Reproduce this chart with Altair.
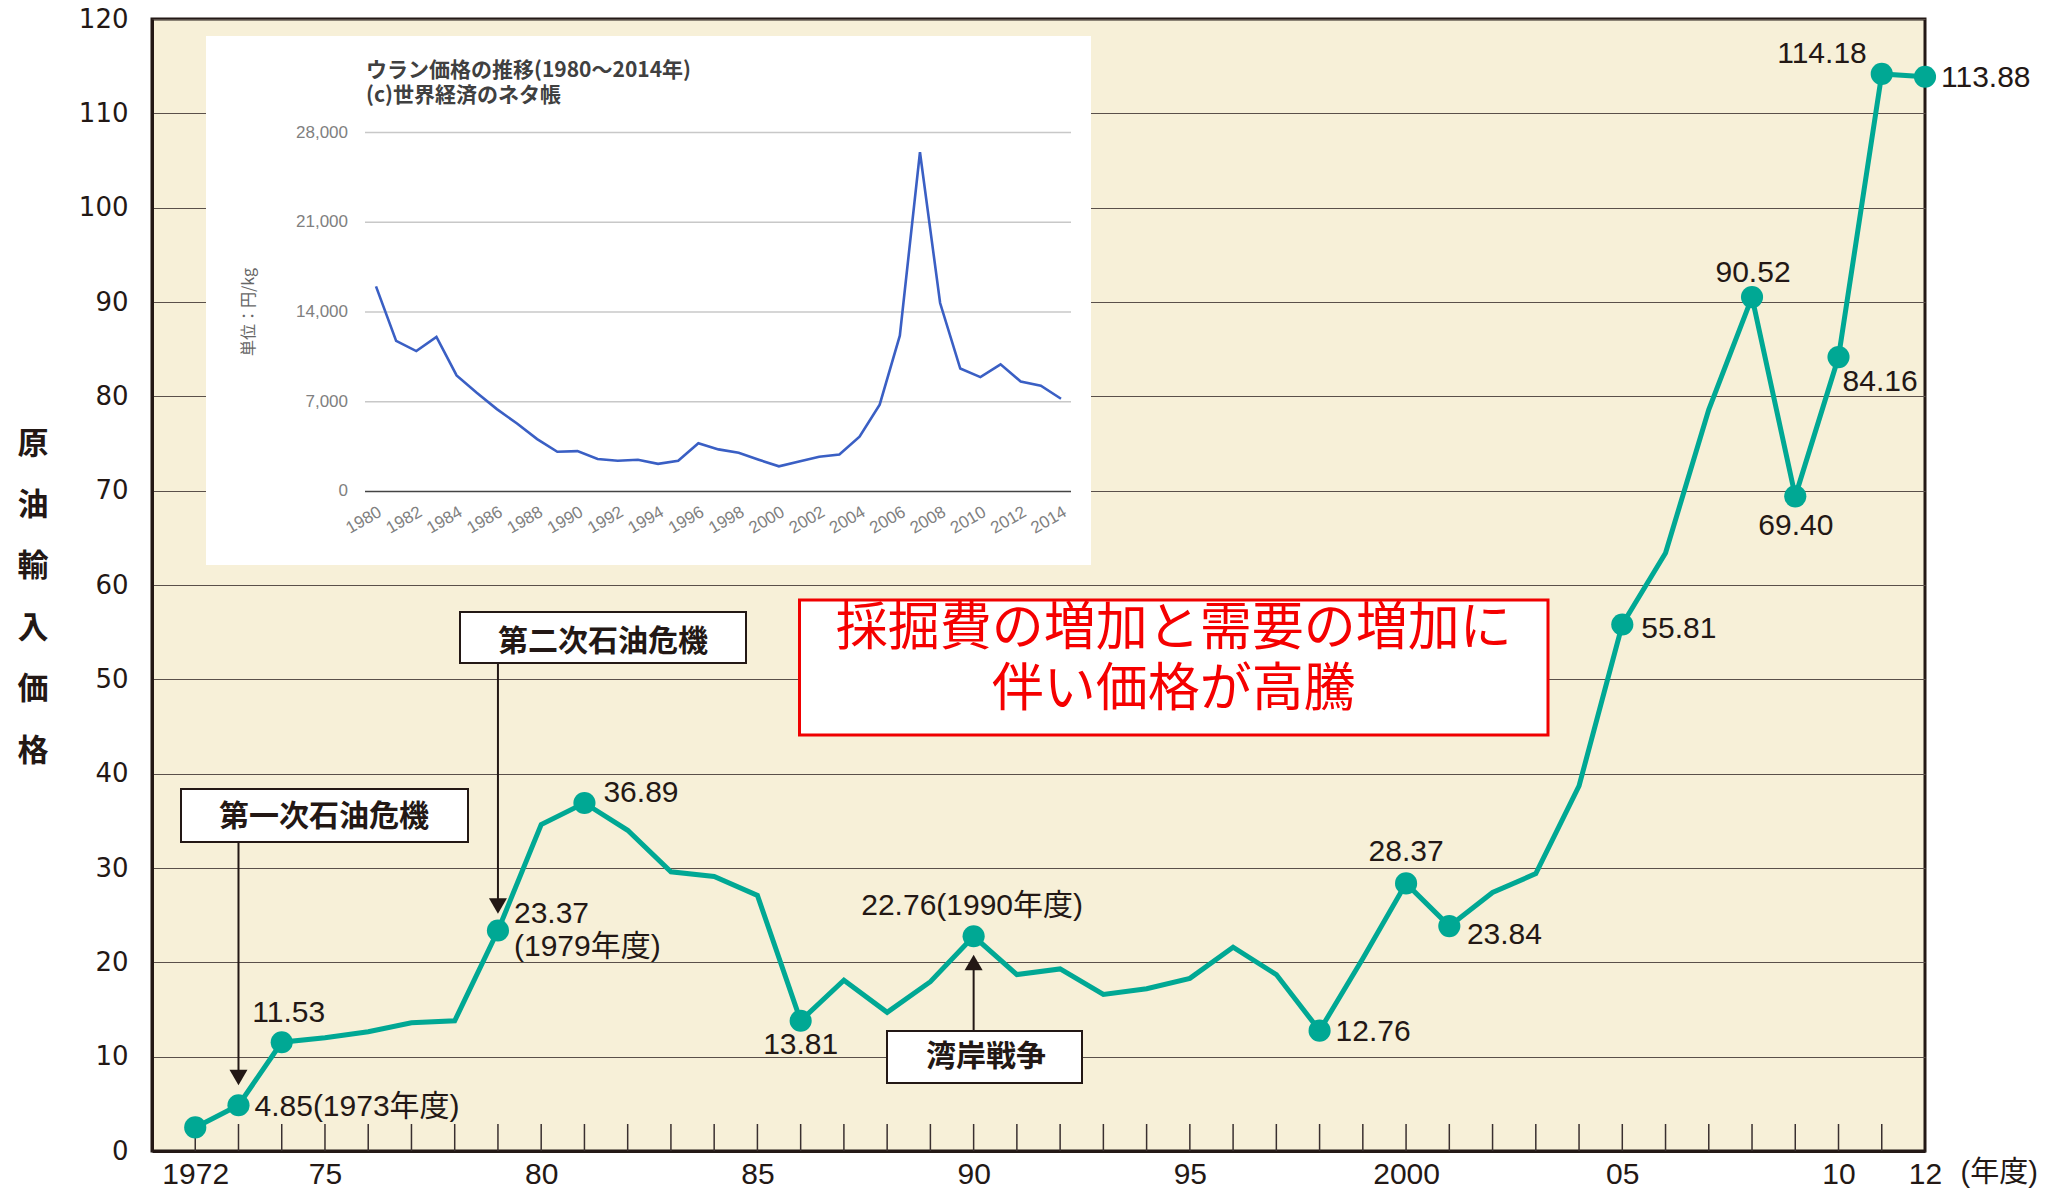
import altair as alt
import pandas as pd

# ---------------- data ----------------
years = list(range(1972, 2013))
oil_price = [2.5, 4.85, 11.53, 12.0, 12.65, 13.6, 13.8, 23.37, 34.6, 36.89,
             34.0, 29.6, 29.1, 27.1, 13.81, 18.1, 14.7, 17.95, 22.76, 18.7,
             19.3, 16.6, 17.2, 18.3, 21.6, 18.7, 12.76, 20.4, 28.37, 23.84,
             27.4, 29.4, 38.7, 55.81, 63.4, 78.6, 90.52, 69.40, 84.16, 114.18,
             113.88]
marker_years = [1972, 1973, 1974, 1979, 1981, 1986, 1990, 1998, 2000, 2001,
                2005, 2008, 2009, 2010, 2011, 2012]
label_years = [1973, 1974, 1979, 1981, 1986, 1990, 1998, 2000, 2001, 2005,
               2008, 2009, 2010, 2011, 2012]
label_texts = ["4.85(1973年度)", "11.53", "23.37\n(1979年度)", "36.89", "13.81",
               "22.76(1990年度)", "12.76", "28.37", "23.84", "55.81", "90.52",
               "69.40", "84.16", "114.18", "113.88"]
x_tick_years = list(range(1972, 2012))
x_label_years = [1972, 1975, 1980, 1985, 1990, 1995, 2000, 2005, 2010, 2012]
x_label_texts = ["1972", "75", "80", "85", "90", "95", "2000", "05", "10", "12"]
y_ticks = list(range(0, 121, 10))

event_years = [1973, 1979, 1990]
event_texts = ["第一次石油危機", "第二次石油危機", "湾岸戦争"]
note_text = "採掘費の増加と需要の増加に\n伴い価格が高騰"

# inset: uranium price (yen/kg)
u_years = list(range(1980, 2015))
u_price = [16000, 11750, 10950, 12050, 9050, 7700, 6420, 5300, 4080, 3090,
           3140, 2530, 2390, 2470, 2150, 2390, 3760, 3280, 3010, 2470,
           1960, 2340, 2710, 2880, 4270, 6770, 12150, 26470, 14700, 9590,
           8920, 9920, 8570, 8250, 7230]
u_ticks = [0, 7000, 14000, 21000, 28000]
u_label_years = list(range(1980, 2015, 2))
inset_title = ["ウラン価格の推移(1980～2014年)", "(c)世界経済のネタ帳"]
inset_ytitle = "単位：円/kg"

# ---------------- styles ----------------
W, H = 1773, 1132
INK = "#231815"
TEAL = "#00A894"
BG = "#F7F0D8"
NUMFONT = "Liberation Sans, Noto Sans CJK JP"
JPFONT = "Noto Sans CJK JP"

df = pd.DataFrame({"year": years, "price": oil_price})
df_mark = df[df["year"].isin(marker_years)]
price_of = dict(zip(years, oil_price))

label_expr = " : ".join(
    f"datum.value == {y} ? '{t}'" for y, t in zip(x_label_years, x_label_texts)
) + " : ''"

xscale = alt.Scale(domain=[1971, 2012], nice=False, zero=False)
yscale = alt.Scale(domain=[0, 120], nice=False, zero=True)
xaxis = alt.Axis(
    values=x_label_years, labelExpr=label_expr, ticks=False, grid=False,
    domain=True, domainColor=INK, domainWidth=3,
    labelFont=NUMFONT, labelFontSize=30, labelColor=INK, labelPadding=8,
    labelFlush=False, labelOverlap=False, labelBound=False,
    title="(年度)", titleFont=NUMFONT, titleFontSize=29, titleFontWeight="normal",
    titleColor=INK, titleX=1808, titleY=21, titleAlign="left",
    titleBaseline="middle", titleAnchor="start",
)
yaxis = alt.Axis(
    values=y_ticks, ticks=False, grid=True, gridColor="#5a504a", gridWidth=1.2,
    domain=True, domainColor=INK, domainWidth=3,
    labelFont="DejaVu Sans", labelFontSize=26, labelColor=INK, labelPadding=24,
    labelFlush=False, labelOverlap=False,
    title=list("原油輸入価格"), titleAngle=0, titleFont=JPFONT, titleFontSize=31,
    titleFontWeight="bold", titleColor=INK, titleX=-119.5, titleY=425,
    titleAlign="center", titleBaseline="middle", titleLineHeight=61.4,
)
X = alt.X("year:Q", scale=xscale, axis=xaxis)
Y = alt.Y("price:Q", scale=yscale, axis=yaxis)

base = alt.Chart(df)

line = base.mark_line(color=TEAL, strokeWidth=5).encode(x=X, y=Y)
points = alt.Chart(df_mark).mark_circle(color=TEAL, opacity=1, size=490).encode(x=X, y=Y)

ticks_df = pd.DataFrame({"year": x_tick_years})
tick_rules = alt.Chart(ticks_df).mark_rule(color="#3a3030", strokeWidth=1.5).encode(
    x=X, y=alt.value(H), y2=alt.value(H - 27))

# placement of the value labels: (align, dx, dy)
placement = {
    1973: ("left", 16, 1.5), 1974: ("center", 7, -29), 1979: ("left", 16, -17),
    1981: ("left", 19, -10), 1986: ("center", 0, 24), 1990: ("center", -1.5, -30),
    1998: ("left", 16, 1), 2000: ("center", 0, -31), 2001: ("left", 17.6, 9),
    2005: ("left", 19, 4), 2008: ("center", 1, -24), 2009: ("center", 0.6, 29.6),
    2010: ("left", 4, 25), 2011: ("right", -15, -19.6), 2012: ("left", 16, 1),
}
label_layers = []
for yr, txt in zip(label_years, label_texts):
    al, dx, dy = placement[yr]
    d = pd.DataFrame({"year": [yr], "price": [price_of[yr]], "t": [txt]})
    label_layers.append(
        alt.Chart(d).mark_text(
            align=al, baseline="middle", dx=dx, dy=dy, font=NUMFONT, fontSize=30,
            color=INK, lineBreak="\n", lineHeight=33,
        ).encode(x=X, y=Y, text="t:N")
    )

# event annotation boxes and arrows (box geometry in pixels)
box_geom = [  # x, x2, y, y2, text cx, text cy
    (29, 316, 770, 823, 172, 798),
    (308, 594, 593, 644, 451, 623),
    (735, 930, 1012, 1064, 834, 1038),
]
arrow_geom = [  # line y, line y2, triangle y, shape
    (823, 1052, 1058.5, "triangle-down"),
    (644, 880, 887, "triangle-down"),
    (1012, 950, 943.5, "triangle-up"),
]
event_layers = []
for (yr, txt), (bx, bx2, by, by2, tx, ty), (ly, ly2, ty3, shp) in zip(
        zip(event_years, event_texts), box_geom, arrow_geom):
    d = pd.DataFrame({"year": [yr], "t": [txt]})
    c = alt.Chart(d)
    event_layers += [
        c.mark_rule(color=INK, strokeWidth=2).encode(x=X, y=alt.value(ly), y2=alt.value(ly2)),
        c.mark_point(shape=shp, filled=True, color=INK, opacity=1, size=324).encode(
            x=X, y=alt.value(ty3)),
        c.mark_rect(fill="white", stroke=INK, strokeWidth=2).encode(
            x=alt.value(bx), x2=alt.value(bx2), y=alt.value(by), y2=alt.value(by2)),
        c.mark_text(font=JPFONT, fontSize=30, fontWeight="bold", color=INK,
                    align="center", baseline="middle").encode(
            x=alt.value(tx), y=alt.value(ty), text="t:N"),
    ]

note_df = pd.DataFrame({"t": [note_text]})
note_box = alt.Chart(note_df).mark_rect(fill="white", stroke="#F00000", strokeWidth=3).encode(
    x=alt.value(647.5), x2=alt.value(1396), y=alt.value(581), y2=alt.value(716))
note_txt = alt.Chart(note_df).mark_text(
    font=JPFONT, fontSize=52, color="#F50000", align="center", baseline="middle",
    lineBreak="\n", lineHeight=61).encode(
    x=alt.value(1021.7), y=alt.value(610), text="t:N")

main = alt.layer(tick_rules, line, points, *label_layers, *event_layers, note_box, note_txt)

# ---------------- inset ----------------
ux_scale = alt.Scale(domain=[1980, 2014], range=[224, 909], nice=False, zero=False)
uy_scale = alt.Scale(domain=[0, 28000], range=[472.4, 113.6], nice=False, zero=False)
UX = lambda f: alt.X(f, scale=ux_scale, axis=None)
UY = lambda f: alt.Y(f, scale=uy_scale, axis=None)

udf = pd.DataFrame({"uyear": u_years, "uprice": u_price})
utick_df = pd.DataFrame({"utick": u_ticks, "zero": [t == 0 for t in u_ticks]})
ulab_df = pd.DataFrame({"uyear": u_label_years, "ulab": [str(y) for y in u_label_years],
                        "uzero": [0] * len(u_label_years)})
utitle_df = pd.DataFrame({"t": [inset_title[0]], "t2": [inset_title[1]], "yt": [inset_ytitle]})

inset_bg = alt.Chart(utitle_df).mark_rect(fill="white").encode(
    x=alt.value(54), x2=alt.value(939), y=alt.value(17), y2=alt.value(546))
inset_grid = alt.Chart(utick_df).mark_rule(strokeWidth=1.5).encode(
    y=UY("utick:Q"), x=alt.value(213), x2=alt.value(919),
    color=alt.condition("datum.zero", alt.value("#444444"), alt.value("#c8c8c8")))
inset_ylab = alt.Chart(utick_df).mark_text(
    align="right", baseline="middle", font="Liberation Sans", fontSize=17,
    color="#808080").encode(
    y=UY("utick:Q"), x=alt.value(196), text=alt.Text("utick:Q", format=","))
inset_xlab = alt.Chart(ulab_df).mark_text(
    align="right", baseline="middle", angle=330, dx=-6, dy=19,
    font="Liberation Sans", fontSize=17, color="#808080").encode(
    x=UX("uyear:Q"), y=UY("uzero:Q"), text="ulab:N")
inset_line = alt.Chart(udf).mark_line(color="#3A5FC4", strokeWidth=2.6).encode(
    x=UX("uyear:Q"), y=UY("uprice:Q"))
inset_t1 = alt.Chart(utitle_df).mark_text(
    align="left", baseline="middle", font=JPFONT, fontSize=21, fontWeight="bold",
    color="#404040").encode(x=alt.value(214), y=alt.value(51.6), text="t:N")
inset_t2 = alt.Chart(utitle_df).mark_text(
    align="left", baseline="middle", font=JPFONT, fontSize=21, fontWeight="bold",
    color="#404040").encode(x=alt.value(214), y=alt.value(77.4), text="t2:N")
inset_yt = alt.Chart(utitle_df).mark_text(
    align="center", baseline="middle", angle=270, font=JPFONT, fontSize=16,
    color="#666666").encode(x=alt.value(97), y=alt.value(293), text="yt:N")

inset = alt.layer(inset_bg, inset_grid, inset_ylab, inset_xlab, inset_line,
                  inset_t1, inset_t2, inset_yt)

chart = alt.layer(main, inset).resolve_scale(
    x="independent", y="independent"
).properties(
    width=W, height=H,
    autosize=alt.AutoSizeParams(type="none"),
    padding={"left": 144, "top": 11, "right": 115, "bottom": 40},
    background="white",
).configure_view(
    fill=BG, stroke=INK, strokeWidth=3
)

chart.save("out.html", embed_options={"renderer": "svg", "actions": False})
